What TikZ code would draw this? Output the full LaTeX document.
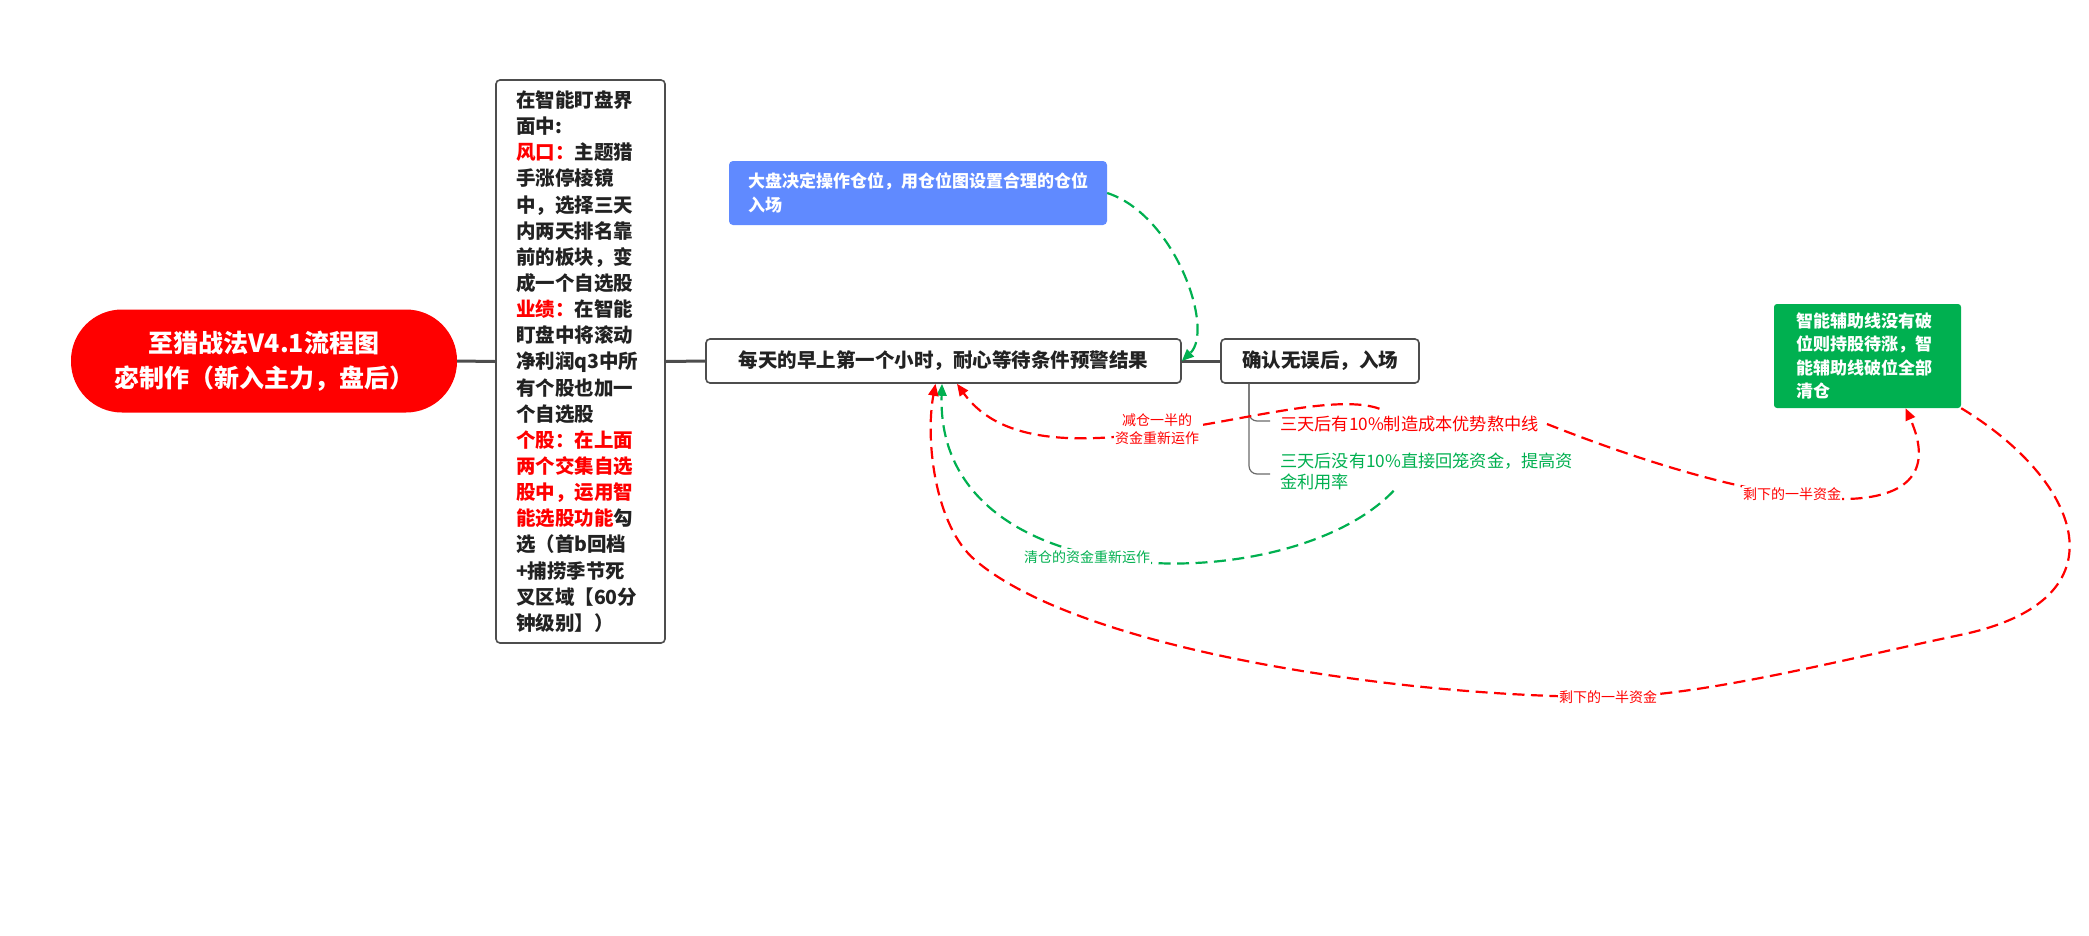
\documentclass[tikz,border=0pt]{standalone}
\usepackage{fontspec}
\setmainfont{Noto Sans CJK SC}
\usetikzlibrary{arrows.meta}
\definecolor{boxgray}{HTML}{4D4D4D}
\definecolor{branchgray}{HTML}{6A6A6A}
\definecolor{myred}{HTML}{FF0000}
\definecolor{mygreen}{HTML}{00B050}
\definecolor{myblue}{RGB}{96,138,255}
\definecolor{inktext}{HTML}{222222}
\begin{document}
\begin{tikzpicture}[x=1pt,y=-1pt,
  topic/.style={draw=boxgray, line width=1.6pt, rounded corners=4pt, fill=white,
    font=\bfseries\fontsize{19.5}{26.15}\selectfont, text=inktext, inner sep=0pt},
  conn/.style={draw=boxgray, line width=3pt},
  branch/.style={draw=branchgray, line width=1.2pt, rounded corners=8pt},
  rel/.style={line width=2.2pt, dash pattern=on 12pt off 6.5pt, -{Triangle[length=12pt,width=10pt]}},
  lbl/.style={fill=white, inner sep=1pt, font=\fontsize{14}{18}\selectfont, align=center},
  sub/.style={anchor=west, inner sep=0pt, font=\fontsize{17.2}{21}\selectfont, align=left}
]
\useasboundingbox (0,0) rectangle (2089,935);
\fill[white] (0,0) rectangle (2089,935);

% root
\node[fill=myred, rounded corners=51pt, minimum width=386pt, minimum height=103pt,
  text=white, font=\bfseries\fontsize{25}{34.6}\selectfont, align=center, inner sep=0pt]
  (root) at (264,361) {至猎战法V4.1流程图\\宓制作（新入主力，盘后）};

% intro text box
\node[topic, minimum width=169pt, minimum height=563pt, text width=129pt, align=left]
  (intro) at (580.5,361.5) {在智能盯盘界\\面中:\\
  {\color{myred}风口：}主题猎\\手涨停棱镜\\中，选择三天\\内两天排名靠\\前的板块，变\\成一个自选股\\
  {\color{myred}业绩：}在智能\\盯盘中将滚动\\净利润q3中所\\有个股也加一\\个自选股\\
  {\color{myred}个股：在上面}\\{\color{myred}两个交集自选}\\{\color{myred}股中，运用智}\\
  {\color{myred}能选股功能}勾\\选（首b回档\\+捕捞季节死\\叉区域【60分\\钟级别】）};

% main topic
\node[topic, minimum width=475pt, minimum height=44pt] (main) at (943.5,361)
  {每天的早上第一个小时，耐心等待条件预警结果};

% confirm topic
\node[topic, minimum width=198pt, minimum height=44pt] (confirm) at (1320,361)
  {确认无误后，入场};

% blue floating topic
\node[fill=myblue, rounded corners=4pt, text=white, font=\bfseries\fontsize{17}{24}\selectfont,
  align=left, text width=340pt, inner xsep=19pt, inner ysep=0pt, minimum height=64pt]
  (blue) at (918,193) {大盘决定操作仓位，用仓位图设置合理的仓位\\入场};

% green floating topic
\node[fill=mygreen, rounded corners=3pt, text=white, font=\bfseries\fontsize{17}{23.3}\selectfont,
  align=left, text width=143pt, inner xsep=22pt, inner ysep=0pt, minimum height=104pt]
  (greenbox) at (1867.5,356) {智能辅助线没有破\\位则持股待涨，智\\能辅助线破位全部\\清仓};

% sub branches
\node[sub, text=myred] (keep) at (1280,424) {三天后有10\%制造成本优势熬中线};
\node[sub, text=mygreen] (clear) at (1280,471) {三天后没有10\%直接回笼资金，提高资\\金利用率};

% tree connectors
\draw[conn] (root.east) -- (intro.west);
\draw[conn] (intro.east) -- (main.west);
\draw[conn] (confirm.west) -- (main.east);
\coordinate (bt) at ([xshift=-71pt]confirm.south);
\draw[branch] (bt) |- ([xshift=-10pt,yshift=3pt]keep.west);
\draw[branch] (bt) |- ([xshift=-10pt,yshift=-3pt]clear.west);

% relationship curves
\draw[rel, mygreen] (blue.east) .. controls (1175,215) and (1215,330) .. (main.east);
\draw[rel, myred] ([xshift=-30pt,yshift=7pt]keep.north) .. controls (1300,380) and (1040,500) .. ([xshift=13.5pt]main.south);
\draw[rel, myred] ([xshift=8pt]keep.east) .. controls (1790,520) and (1960,530) .. ([xshift=38pt]greenbox.south);
\draw[rel, mygreen] ([xshift=-33pt,yshift=-1pt]clear.south) .. controls (1290,600) and (935,600) .. ([xshift=-1.5pt]main.south);
\draw[rel, myred] (greenbox.south east) .. controls (2080,480) and (2130,600) .. (1960,635)
  .. controls (1850,658) and (1700,697) .. (1608,697)
  .. controls (1400,697) and (1080,650) .. (975,560)
  .. controls (935,526) and (925,440) .. ([xshift=-8pt]main.south);

% relationship labels
\node[lbl, text=myred] (lblhalf) at (1157,429) {减仓一半的\\资金重新运作};
\node[lbl, text=mygreen] (lblclear) at (1087,557) {清仓的资金重新运作};
\node[lbl, text=myred] (lblrest1) at (1792,494) {剩下的一半资金};
\node[lbl, text=myred] (lblrest2) at (1608,697) {剩下的一半资金};
\end{tikzpicture}
\end{document}
